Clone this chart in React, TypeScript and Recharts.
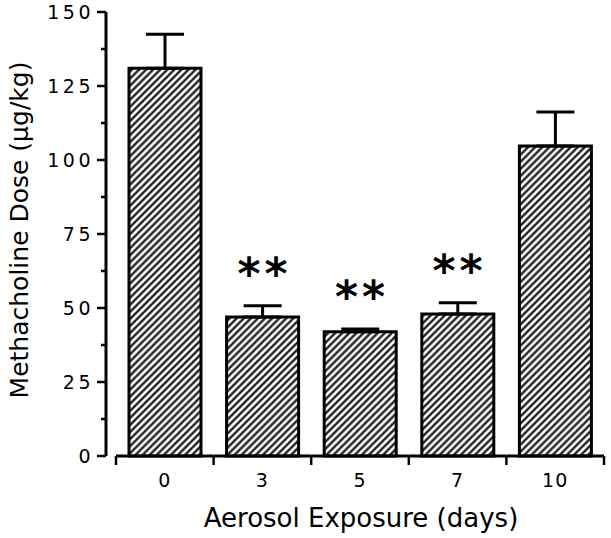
import React from 'react';
import { ComposedChart, Bar, ErrorBar, Scatter, XAxis, YAxis } from 'recharts';

// exposure days and methacholine dose (µg/kg)
const days = ['0', '3', '5', '7', '10'];
const doseMeans = [131, 47, 42, 48, 104.7];
const doseSem = [11.5, 3.8, 0.9, 3.8, 11.5];
const significance = ['', '**', '**', '**', ''];

const yTicks = [0, 12.5, 25, 37.5, 50, 62.5, 75, 87.5, 100, 112.5, 125, 137.5, 150];
const yTickLabels = [0, 25, 50, 75, 100, 125, 150];

const chartData = days.map((day, i) => ({
  day,
  dose: doseMeans[i],
  err: [0, doseSem[i]],
  top: significance[i] ? doseMeans[i] + doseSem[i] : null,
  sig: significance[i],
}));

const FONT = '"DejaVu Sans", sans-serif';
const WIDTH = 611;
const HEIGHT = 538;

const YTick = (props: any) => {
  const { x, y, payload } = props;
  const major = yTickLabels.includes(payload.value);
  return (
    <g>
      <line x1={x} x2={x - (major ? 9 : 5)} y1={y} y2={y} stroke="#000" strokeWidth={2.5} />
      {major && (
        <text x={x - 12} y={y + 7} textAnchor="end" fontFamily={FONT} fontSize={19} fill="#000" letterSpacing={3.5}>
          {payload.value}
        </text>
      )}
    </g>
  );
};

const XTick = (props: any) => {
  const { x, y, payload, index } = props;
  const half = payload.offset || 48.8;
  return (
    <g>
      <line x1={x - half} x2={x + half} y1={y} y2={y} stroke="#000" strokeWidth={3} />
      <line x1={x - half} x2={x - half} y1={y} y2={y + 9} stroke="#000" strokeWidth={2.5} />
      {index === days.length - 1 && (
        <line x1={x + half} x2={x + half} y1={y} y2={y + 9} stroke="#000" strokeWidth={2.5} />
      )}
      <text x={x} y={y + 31} textAnchor="middle" fontFamily={FONT} fontSize={19} fill="#000" letterSpacing={1}>
        {payload.value}
      </text>
    </g>
  );
};

const Stars = (props: any) => {
  const { cx, cy, payload } = props;
  if (!payload || !payload.sig || cy == null || isNaN(cy)) return <g />;
  return (
    <text x={cx + 2} y={cy - 17} textAnchor="middle" fontFamily={FONT} fontSize={44} fontWeight="bold" fill="#000" letterSpacing={4}>
      {payload.sig}
    </text>
  );
};

export default function App() {
  return (
    <div style={{ position: 'absolute', left: 0, top: 0, width: WIDTH, height: HEIGHT, background: '#fff' }}>
      <ComposedChart width={WIDTH} height={HEIGHT} data={chartData} margin={{ top: 12, right: 7, bottom: 0, left: 0 }}>
        <defs>
          <pattern id="hatch" patternUnits="userSpaceOnUse" width={5} height={5} patternTransform="rotate(45)">
            <rect x={0} y={0} width={5} height={5} fill="#fff" />
            <line x1={2.5} y1={0} x2={2.5} y2={5} stroke="#000" strokeWidth={2.1} />
          </pattern>
        </defs>
        <XAxis
          dataKey="day"
          height={82}
          interval={0}
          padding={{ left: 10, right: 0 }}
          axisLine={false}
          tickLine={false}
          tickSize={0}
          tickMargin={0}
          tick={<XTick />}
          label={{
            content: () => (
              <text x={361} y={527} textAnchor="middle" fontFamily={FONT} fontSize={26} fill="#000">
                Aerosol Exposure (days)
              </text>
            ),
          }}
        />
        <YAxis
          width={106}
          domain={[0, 150]}
          ticks={yTicks}
          interval={0}
          axisLine={{ stroke: '#000', strokeWidth: 3 }}
          tickLine={false}
          tickSize={0}
          tickMargin={0}
          tick={<YTick />}
          label={{
            content: () => (
              <text x={28} y={230} transform="rotate(-90, 28, 230)" textAnchor="middle" fontFamily={FONT} fontSize={25} fill="#000">
                Methacholine Dose (μg/kg)
              </text>
            ),
          }}
        />
        <Bar dataKey="dose" barSize={72} fill="url(#hatch)" stroke="#000" strokeWidth={3} isAnimationActive={false}>
          <ErrorBar dataKey="err" direction="y" width={19} stroke="#000" strokeWidth={3} />
        </Bar>
        <Scatter dataKey="top" shape={<Stars />} isAnimationActive={false} />
      </ComposedChart>
    </div>
  );
}
